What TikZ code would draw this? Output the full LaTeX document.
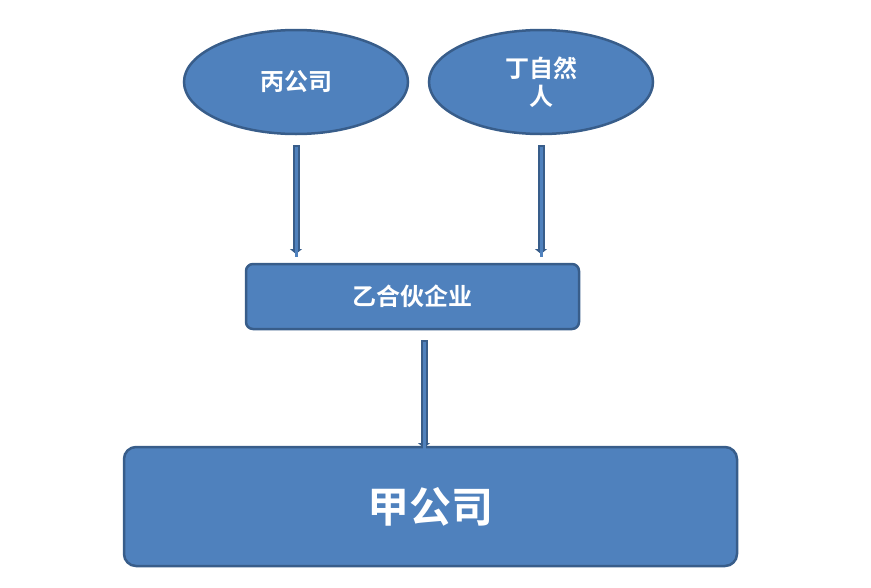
\documentclass[tikz,border=0pt]{standalone}
\usepackage{fontspec}
\newfontfamily\cjk{Noto Sans CJK SC}[BoldFont={Noto Sans CJK SC Bold}]
\usetikzlibrary{shapes.geometric,arrows.meta}
\definecolor{fillb}{HTML}{4F81BD}
\definecolor{lineb}{HTML}{385D8A}
\tikzset{
 shp/.style={fill=fillb,draw=lineb,line width=2.5pt,text=white,font=\cjk\bfseries,align=center},
 ell/.style={shp,ellipse,minimum width=224pt,minimum height=104pt,inner sep=0pt},
 box/.style={shp,rectangle,rounded corners=7pt},
 arr/.style={draw=lineb,line width=7pt,-{Triangle[length=5pt,width=12pt]}},
 arrin/.style={draw=fillb,line width=3pt,shorten >=3pt}
}
\begin{document}
\begin{tikzpicture}[x=1pt,y=-1pt]
\useasboundingbox (0,0) rectangle (871,587);
\node[ell,font=\cjk\bfseries\fontsize{24}{28}\selectfont] (b) at (296,82) {丙公司};
\node[ell,font=\cjk\bfseries\fontsize{24}{28}\selectfont] (d) at (541,82) {丁自然\\人};
\node[box,minimum width=333pt,minimum height=65pt,font=\cjk\bfseries\fontsize{24}{28}\selectfont] (y) at (412.5,296.5) {乙合伙企业};
\node[box,minimum width=613pt,minimum height=119pt,rounded corners=12pt,font=\cjk\bfseries\fontsize{42}{48}\selectfont] (j) at (430.5,506.5) {甲公司};
\coordinate (b1) at (296,145); \coordinate (b2) at (296,254);
\coordinate (d1) at (541,145); \coordinate (d2) at (541,254);
\coordinate (y1) at (424,340); \coordinate (y2) at (424,448);
\foreach \s/\e in {b1/b2,d1/d2,y1/y2}{
 \draw[arr] (\s) -- (\e);
 \draw[arrin] (\s) ++(0,1.5) -- ([yshift=-6pt]\e);
}
\end{tikzpicture}
\end{document}
